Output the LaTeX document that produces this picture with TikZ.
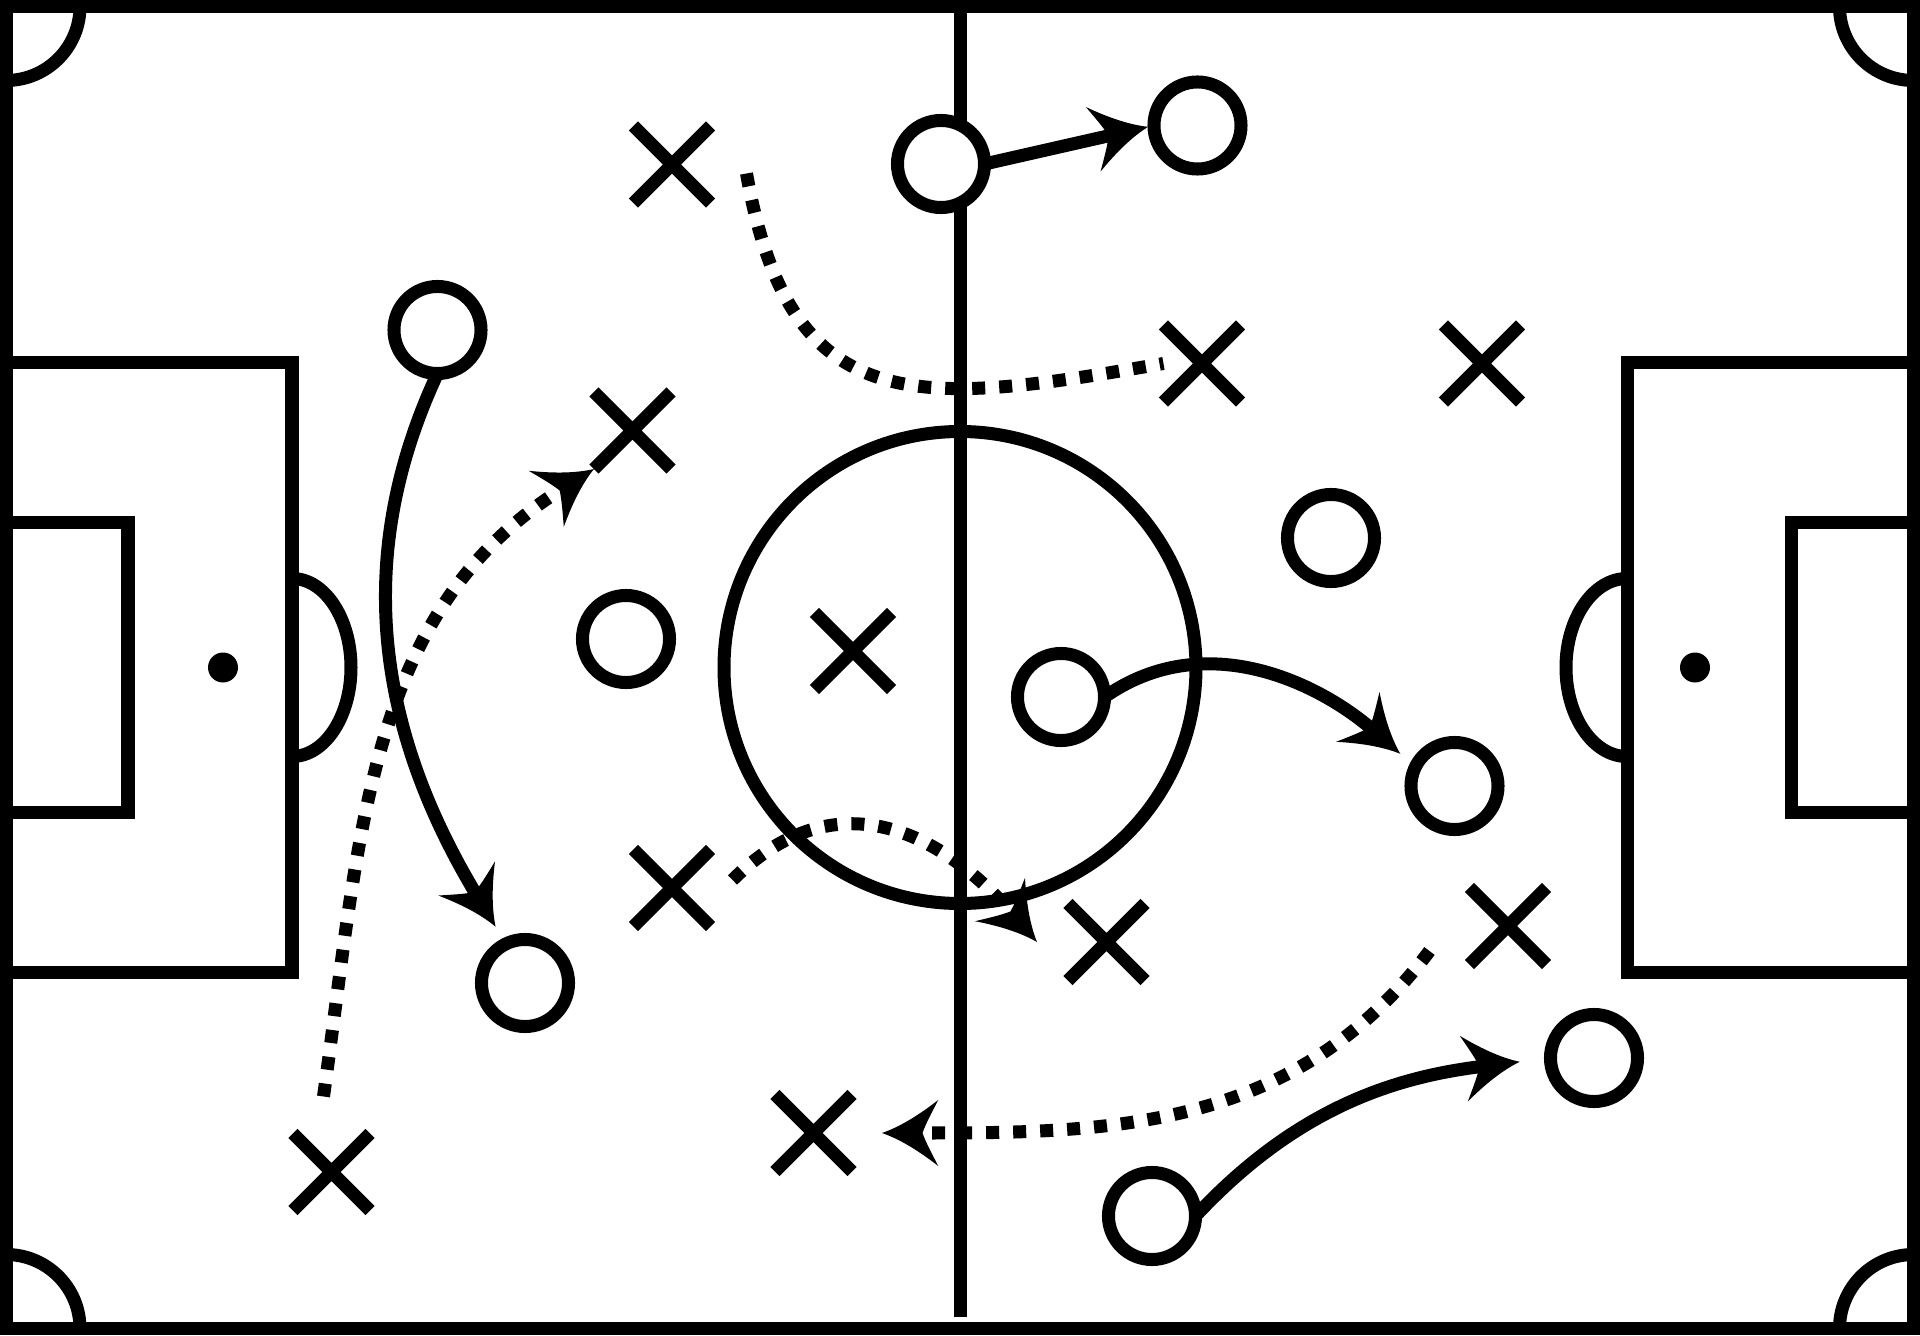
\documentclass[tikz,border=0pt]{standalone}
\usetikzlibrary{shapes.misc}
\usetikzlibrary{arrows.meta}

% barbed arrow head with hollow sides
\pgfdeclarearrow{
  name = Barb,
  setup code = {
    \pgfarrowssettipend{0pt}
    \pgfarrowssetlineend{-10.5pt}
    \pgfarrowssetbackend{-16pt}
    \pgfarrowshullpoint{0pt}{0pt}
    \pgfarrowshullpoint{-16pt}{9.4pt}
    \pgfarrowshullpoint{-16pt}{-9.4pt}
  },
  drawing code = {
    \pgfpathmoveto{\pgfpointorigin}
    \pgfpathcurveto{\pgfpoint{-5.5pt}{-1.9pt}}{\pgfpoint{-11pt}{-5.5pt}}{\pgfpoint{-16pt}{-9.4pt}}
    \pgfpathcurveto{\pgfpoint{-14.4pt}{-6.3pt}}{\pgfpoint{-12.6pt}{-3pt}}{\pgfpoint{-11.5pt}{0pt}}
    \pgfpathcurveto{\pgfpoint{-12.6pt}{3pt}}{\pgfpoint{-14.4pt}{6.3pt}}{\pgfpoint{-16pt}{9.4pt}}
    \pgfpathcurveto{\pgfpoint{-11pt}{5.5pt}}{\pgfpoint{-5.5pt}{1.9pt}}{\pgfpointorigin}
    \pgfpathclose
    \pgfusepathqfill
  }
}

\begin{document}
\begin{tikzpicture}[x=0.01cm, y=0.01cm, line width=0.13cm,
  player/.style={circle, draw, fill=white, minimum size=0.87cm, inner sep=0pt, outer sep=0pt},
  rival/.style={cross out, draw, minimum size=0.77cm, inner sep=0pt, outer sep=0pt},
  pass/.style={-Barb},
  run/.style={-Barb, dash pattern=on 0.13cm off 0.14cm}]

\useasboundingbox (0,0) rectangle (1920,1335);
\fill[white] (0,0) rectangle (1920,1335);

% pitch
\draw (6,6.5) rectangle (1913.5,1328.5);
\draw (960,18) -- (960,1328.5);
\draw (960,667.5) circle (236);

\draw (6,972.5) -| (292,362.5) -- (6,362.5);
\draw (6,812.5) -| (128,522.5) -- (6,522.5);
\fill (223,667.5) circle (15);
\draw (292,756.5) arc[start angle=90, end angle=-90, x radius=59, y radius=89];

\draw (1913.5,972.5) -| (1627,362.5) -- (1913.5,362.5);
\draw (1913.5,812.5) -| (1791,522.5) -- (1913.5,522.5);
\fill (1695,667.5) circle (15);
\draw (1627,756.5) arc[start angle=90, end angle=270, x radius=61, y radius=89];

\draw (80,1328.5) arc[start angle=0, end angle=-90, radius=74];
\draw (1839.5,1328.5) arc[start angle=180, end angle=270, radius=74];
\draw (80,6.5) arc[start angle=0, end angle=90, radius=74];
\draw (1839.5,6.5) arc[start angle=180, end angle=90, radius=74];

% players
\node[player] (o1) at (941,1171) {};
\node[player] (o2) at (1197.5,1209.5) {};
\node[player] (o3) at (437.5,1005) {};
\node[player] (o4) at (626,696) {};
\node[player] (o5) at (1061,638) {};
\node[player] (o6) at (1331,797) {};
\node[player] (o7) at (1454.5,549) {};
\node[player] (o8) at (525,352) {};
\node[player] (o9) at (1594,277) {};
\node[player] (o10) at (1152,119) {};

\node[rival] (x1) at (672,1170.5) {};
\node[rival] (x2) at (632.5,904.5) {};
\node[rival] (x3) at (1202,971.5) {};
\node[rival] (x4) at (1482,971.5) {};
\node[rival] (x5) at (853,684) {};
\node[rival] (x6) at (672,447) {};
\node[rival] (x7) at (1106.5,393) {};
\node[rival] (x8) at (1508,409) {};
\node[rival] (x9) at (813.5,202) {};
\node[rival] (x10) at (331.5,163) {};

% moves
\draw[pass, shorten >=0.06cm] (o1.east) -- (o2.west);
\draw[pass, shorten >=0.2cm] (o3.south) to[out=-115, in=121] (o8.116);
\draw[pass, shorten >=0.2cm] (o5.east) to[out=35, in=139] (o7.154);
\draw[pass, shorten >=0.31cm] (o10.east) to[out=47, in=187] (o9.west);

\draw[run, -] ([shift={(36,-9)}]x1.east) to[out=-80, in=190, looseness=1.4] (x3.west);
\draw[run] ([shift={(-8,37)}]x10.north) to[out=82, in=212] (x2.south west);
\draw[run] ([shift={(22,8)}]x6.east) to[out=45, in=131, looseness=1.2] ([shift={(-31,0)}]x7.west);
\draw[run] ([shift={(-40,-25)}]x8.west) to[out=-127, in=0] ([shift={(30,0)}]x9.east);

\end{tikzpicture}
\end{document}
